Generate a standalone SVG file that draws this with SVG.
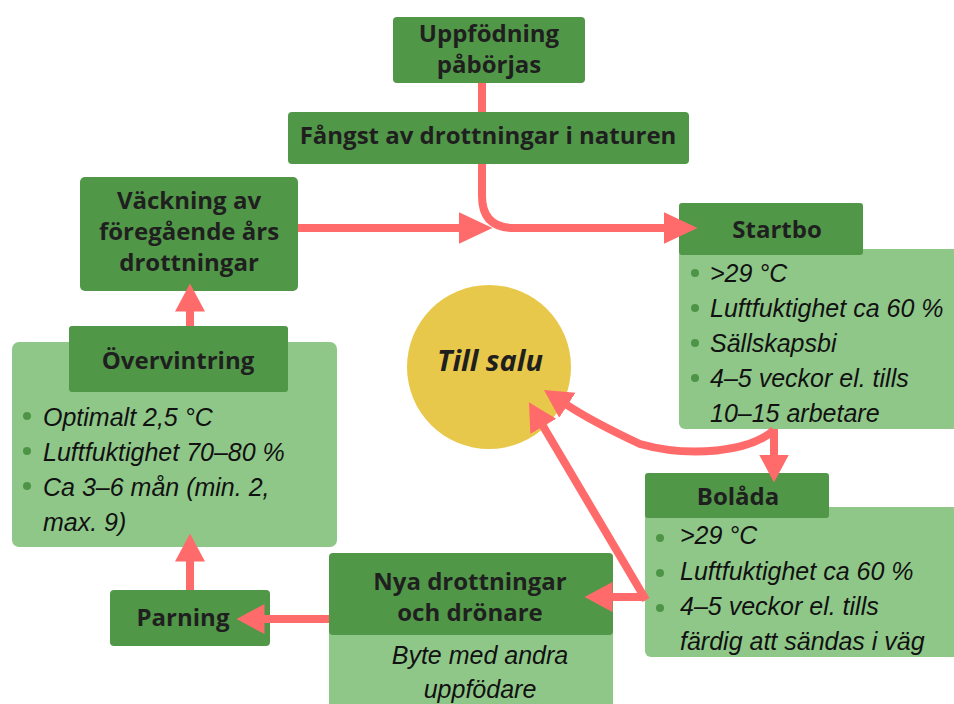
<svg xmlns="http://www.w3.org/2000/svg" width="954" height="704" viewBox="0 0 954 704">
<style>
.dark{fill:#519748;}
.light{fill:#8FC789;}
.h{font-family:"Open Sans","Liberation Sans",sans-serif;font-weight:700;font-size:24px;fill:#1f1f1f;text-anchor:middle;}
.b{font-family:"Liberation Sans",Arial,sans-serif;font-style:italic;font-size:25px;fill:#111;}
.dot{fill:#4E9446;}
.con{fill:none;stroke:#FF6B6B;stroke-width:8;}
</style>
<defs>
<marker id="ahL" markerUnits="userSpaceOnUse" markerWidth="34" markerHeight="34" viewBox="0 0 34 34" refX="0.5" refY="17" orient="auto">
<path d="M0,1 L34,17 L0,33 z" fill="#FF6B6B"/>
</marker>
<marker id="ahS" markerUnits="userSpaceOnUse" markerWidth="28" markerHeight="32" viewBox="0 0 28 32" refX="0.5" refY="16" orient="auto">
<path d="M0,1 L28,16 L0,31 z" fill="#FF6B6B"/>
</marker>
</defs>
<rect width="954" height="704" fill="#ffffff"/>

<g id="uppfodning">
<rect class="dark" x="393" y="17" width="192" height="66" rx="4"/>
<text class="h" x="489" y="42" font-size="23">Uppfödning</text>
<text class="h" x="489" y="73" font-size="23">påbörjas</text>
</g>

<g id="fangst">
<rect class="dark" x="288" y="112" width="401" height="52" rx="4"/>
<text class="h" x="488" y="144">Fångst av drottningar i naturen</text>
</g>

<g id="vackning">
<rect class="dark" x="80" y="177" width="218" height="114" rx="5"/>
<text class="h" x="189" y="209">Väckning av</text>
<text class="h" x="189" y="240">föregående års</text>
<text class="h" x="189" y="271">drottningar</text>
</g>

<g id="overvintring">
<rect class="light" x="12" y="342" width="325" height="205" rx="7"/>
<rect class="dark" x="69" y="326" width="219" height="66" rx="3"/>
<text class="h" x="178" y="369">Övervintring</text>
<circle class="dot" cx="27" cy="416" r="4"/>
<circle class="dot" cx="27" cy="451" r="4"/>
<circle class="dot" cx="27" cy="486" r="4"/>
<text class="b" x="43" y="426">Optimalt 2,5 °C</text>
<text class="b" x="43" y="461">Luftfuktighet 70–80 %</text>
<text class="b" x="43" y="496">Ca 3–6 mån (min. 2,</text>
<text class="b" x="43" y="531">max. 9)</text>
</g>

<g id="startbo">
<rect class="light" x="679" y="249" width="290" height="180" rx="6"/>
<rect class="dark" x="679" y="203" width="184" height="52" rx="3"/>
<text class="h" x="777" y="238">Startbo</text>
<circle class="dot" cx="695" cy="273" r="4"/>
<circle class="dot" cx="695" cy="308" r="4"/>
<circle class="dot" cx="695" cy="343" r="4"/>
<circle class="dot" cx="695" cy="378" r="4"/>
<text class="b" x="710" y="282">&gt;29 °C</text>
<text class="b" x="710" y="317">Luftfuktighet ca 60 %</text>
<text class="b" x="710" y="352">Sällskapsbi</text>
<text class="b" x="710" y="387">4–5 veckor el. tills</text>
<text class="b" x="710" y="422">10–15 arbetare</text>
</g>

<g id="tillsalu">
<circle cx="489" cy="367" r="82" fill="#E8C84B"/>
<text x="490" y="371" font-family="'Open Sans','Liberation Sans',sans-serif" font-weight="700" font-style="italic" font-size="29" fill="#1f1f1f" text-anchor="middle">Till salu</text>
</g>

<g id="bolada">
<rect class="light" x="645" y="507" width="320" height="150" rx="6"/>
<rect class="dark" x="645" y="473" width="184" height="45" rx="3"/>
<text class="h" x="738" y="505">Bolåda</text>
<circle class="dot" cx="660" cy="538" r="4"/>
<circle class="dot" cx="660" cy="573" r="4"/>
<circle class="dot" cx="660" cy="608" r="4"/>
<text class="b" x="680" y="544">&gt;29 °C</text>
<text class="b" x="680" y="580">Luftfuktighet ca 60 %</text>
<text class="b" x="680" y="615">4–5 veckor el. tills</text>
<text class="b" x="680" y="650">färdig att sändas i väg</text>
</g>

<g id="nya">
<rect class="light" x="329" y="600" width="284" height="120" rx="4"/>
<rect class="dark" x="329" y="553" width="284" height="82" rx="4"/>
<text class="h" x="470" y="590">Nya drottningar</text>
<text class="h" x="470" y="621">och drönare</text>
<text class="b" x="480" y="664" text-anchor="middle">Byte med andra</text>
<text class="b" x="480" y="698" text-anchor="middle">uppfödare</text>
</g>

<g id="parning">
<rect class="dark" x="110" y="590" width="160" height="56" rx="4"/>
<text class="h" x="183" y="626">Parning</text>
</g>

<g id="connectors">
<path class="con" d="M482 83 L482 112"/>
<path class="con" d="M482 164 L482 196 Q482 228 514 228 L664 228" marker-end="url(#ahL)"/>
<path class="con" d="M298 228 L459 228" marker-end="url(#ahL)"/>
<path class="con" d="M190 326 L190 311" marker-end="url(#ahS)"/>
<path class="con" d="M774 429 L774 455" marker-end="url(#ahS)"/>
<path class="con" d="M774 430 C750 452 690 458 640 444 C610 430 590 420 567 405" marker-end="url(#ahS)"/>
<path class="con" d="M646 600 L543 426" marker-end="url(#ahS)"/>
<path class="con" d="M645 597 L612 597" marker-end="url(#ahS)"/>
<path class="con" d="M329 619 L264 619" marker-end="url(#ahS)"/>
<path class="con" d="M190 590 L190 561" marker-end="url(#ahS)"/>
</g>
</svg>
